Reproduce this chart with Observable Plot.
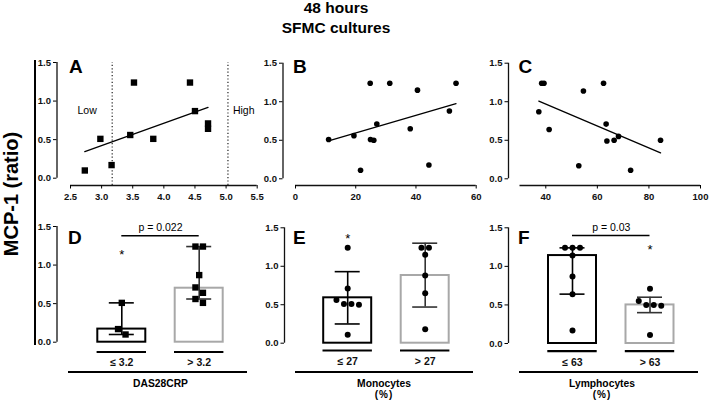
<!DOCTYPE html>
<html><head><meta charset="utf-8">
<script src="https://cdn.jsdelivr.net/npm/d3@7"></script>
<script src="https://cdn.jsdelivr.net/npm/@observablehq/plot@0.6"></script>
<style>
body{margin:0;background:#fff;}
#fig{position:relative;width:709px;height:402px;overflow:hidden;font-family:"Liberation Sans",Arial,Helvetica,sans-serif;color:#000;background:#fff}
.t{position:absolute;line-height:1;white-space:nowrap}
.hl{position:absolute;background:#000}
</style></head><body><div id="fig"></div>
<script>
// ---------- data ----------
// Panel A: DAS28CRP vs MCP-1 ratio
const dasX = [2.73, 2.98, 3.16, 3.46, 3.52, 3.83, 4.42, 4.50, 4.71, 4.71];
const dasY = [0.10, 0.51, 0.17, 0.56, 1.24, 0.51, 1.24, 0.87, 0.71, 0.64];
const dasCutoffs = [3.17, 5.03];
const dasTicks = [2.5, 3.0, 3.5, 4.0, 4.5, 5.0, 5.5];
// Panel B: Monocytes (%)
const monoX = [11.0, 19.4, 21.6, 24.8, 24.9, 26.0, 27.0, 31.3, 38.1, 40.5, 44.3, 51.1, 53.3];
const monoY = [0.51, 0.56, 0.11, 1.24, 0.51, 0.50, 0.71, 1.24, 0.65, 1.15, 0.18, 0.88, 1.24];
const monoTicks = [0, 20, 40, 60];
// Panel C: Lymphocytes (%)
const lymX = [37.3, 38.4, 39.3, 41.3, 52.8, 54.6, 62.4, 63.4, 63.7, 66.5, 68.2, 72.9, 84.5];
const lymY = [0.87, 1.24, 1.24, 0.64, 0.17, 1.14, 1.24, 0.71, 0.49, 0.50, 0.55, 0.11, 0.50];
const lymTicks = [40, 60, 80, 100];
const yTicks = [0, 0.5, 1.0, 1.5];

// Panels D-F: groups split at cutoffs
const dasSplit = 3.2, monoSplit = 27, lymSplit = 63;
const dLabels = ["\u2264 3.2", "> 3.2"];
const eLabels = ["\u2264 27", "> 27"];
const fLabels = ["\u2264 63", "> 63"];
const dBar = [0.17, 0.70], dLo = [0.10, 0.56], dHi = [0.51, 1.24];
const eBar = [0.59, 0.88], eLo = [0.25, 0.47], eHi = [0.93, 1.30];
const fBar = [1.14, 0.50], fLo = [0.64, 0.40], fHi = [1.24, 0.60];
const starGroup = [0, 0, 1];
const starValue = [1.18, 1.41, 1.26];
const pTexts = ["p = 0.022", "p = 0.03"];
const pLines = [1.38, 1.40];

// ---------- helpers ----------
const W = 709, H = 402;
const STYLE = 'position:absolute;left:0;top:0;background:transparent;overflow:visible;font-family:"Liberation Sans",Arial,Helvetica,sans-serif;font-size:9.5px;font-weight:bold;color:#000';
const f1 = d3.format(".1f");
const AX = {fontSize: 9.5, fontWeight: "bold", fill: "#111", label: null};

function rowOffsets(vals, spacing) {
  const idx = vals.map((v, i) => i).sort((a, b) => vals[a] - vals[b]);
  const off = new Array(vals.length).fill(0);
  let i = 0;
  while (i < idx.length) {
    const start = vals[idx[i]];
    let j = i;
    while (j < idx.length && vals[idx[j]] - start <= 0.08 + 1e-9) j++;
    const row = idx.slice(i, j).sort((a, b) => vals[b] - vals[a]);
    row.forEach((k, m) => off[k] = (m - (row.length - 1) / 2) * spacing);
    i = j;
  }
  return off;
}

function scatterPanel(o) {
  const yDom = [0, 1.5];
  const xInv = px => o.xDom[0] + (px - o.xRng[0]) * (o.xDom[1] - o.xDom[0]) / (o.xRng[1] - o.xRng[0]);
  const yInv = px => yDom[0] + (px - o.yRng[0]) * (yDom[1] - yDom[0]) / (o.yRng[1] - o.yRng[0]);
  const data = o.xs.map((x, i) => ({x, y: o.ys[i]}));
  const marks = [
    Plot.ruleX([xInv(o.yAxisPx)], {y1: 0, y2: 1.5, stroke: "#111", strokeWidth: 1.3}),
    Plot.ruleY([yInv(o.xAxisPx)], {x1: o.xDom[0], x2: o.xDom[1], stroke: "#111", strokeWidth: 1.3}),
    Plot.axisY({...AX, ticks: yTicks, tickFormat: f1, tickSize: 3.5, tickPadding: 2.5}),
    Plot.axisX({...AX, ticks: o.xTicks, tickFormat: o.xFmt, tickSize: 3.5, tickPadding: 4})
  ];
  if (o.cutoffs) {
    marks.push(Plot.ruleX(o.cutoffs, {y1: yInv(o.xAxisPx), y2: 1.5, stroke: "#222", strokeWidth: 1.2, strokeDasharray: "1.2,2.2"}));
    marks.push(Plot.text(["Low"], {x: o.xDom[0], y: yInv(110), dx: 7, text: d => d, textAnchor: "start", fontSize: 10.5, fontWeight: "normal", fill: "#000"}));
    marks.push(Plot.text(["High"], {x: o.cutoffs[1], y: yInv(110), dx: 5, text: d => d, textAnchor: "start", fontSize: 10.5, fontWeight: "normal", fill: "#000"}));
  }
  marks.push(Plot.linearRegressionY(data, {x: "x", y: "y", ci: 0, stroke: "#000", strokeWidth: 1.3}));
  marks.push(Plot.dot(data, {x: "x", y: "y", symbol: o.symbol, r: o.symbol === "square" ? 3.6 : 2.8, fill: "#000", stroke: "none"}));
  return Plot.plot({
    width: W, height: H,
    marginLeft: o.yAxisPx, marginBottom: H - o.xAxisPx, marginTop: o.yRng[1], marginRight: W - o.xRng[1],
    x: {domain: o.xDom, range: o.xRng},
    y: {domain: yDom, range: o.yRng},
    style: STYLE,
    marks
  });
}

function barPanel(o) {
  const yDom = [0, 1.5];
  const ppu = o.centers[1] - o.centers[0];
  const xInv = px => (px - o.centers[0]) / ppu;
  const yInv = px => (px - o.yRng[0]) * 1.5 / (o.yRng[1] - o.yRng[0]);
  const groups = o.labels.map((label, i) => ({i, label, bar: o.bar[i], lo: o.lo[i], hi: o.hi[i]}));
  const pts = [];
  o.groupVals.forEach((vals, g) => {
    const off = rowOffsets(vals, 7.5);
    vals.forEach((v, k) => pts.push({x: g + off[k] / ppu, v}));
  });
  const hw = 24 / ppu, uw = 24.7 / ppu, cw = 12.5 / ppu;
  const edge = ["#000000", "#a8a8a8"];
  const errc = ["#000000", "#333333"];
  const marks = [
    Plot.ruleX([xInv(o.yAxisPx)], {y1: 0, y2: 1.5, stroke: "#111", strokeWidth: 1.3}),
    Plot.axisY({...AX, ticks: yTicks, tickFormat: f1, tickSize: 3.5, tickPadding: 2.5}),
    Plot.rectY(groups, {x1: d => d.i - hw, x2: d => d.i + hw, y1: 0, y2: "bar", fill: "white", stroke: d => edge[d.i], strokeWidth: 2}),
    Plot.ruleX(groups, {x: "i", y1: "lo", y2: "hi", stroke: d => errc[d.i], strokeWidth: 1.6}),
    Plot.ruleY(groups, {y: "lo", x1: d => d.i - cw, x2: d => d.i + cw, stroke: d => errc[d.i], strokeWidth: 1.6}),
    Plot.ruleY(groups, {y: "hi", x1: d => d.i - cw, x2: d => d.i + cw, stroke: d => errc[d.i], strokeWidth: 1.6}),
    Plot.dot(pts, {x: "x", y: "v", symbol: o.symbol, r: o.symbol === "square" ? 3.6 : 3, fill: "#000", stroke: "none"}),
    Plot.ruleY(groups, {y: yInv(o.underPx), x1: d => d.i - uw, x2: d => d.i + uw, stroke: "#000", strokeWidth: 2.2}),
    Plot.axisX({...AX, ticks: [0, 1], tickFormat: i => o.labels[i], tickSize: 0, tickPadding: 7, fontSize: 10.5}),
    Plot.text([o.star], {x: "g", y: "v", text: () => "*", fontSize: 13, fontWeight: "normal", fill: "#000", dy: 4})
  ];
  if (o.p) {
    marks.push(Plot.ruleY([o.p], {y: "line", x1: 0, x2: 1, stroke: "#000", strokeWidth: 1.5}));
    marks.push(Plot.text([o.p], {x: 0.5, y: d => d.line + 0.1, text: "text", fontSize: 10.5, fontWeight: "normal", fill: "#000"}));
  }
  return Plot.plot({
    width: W, height: H,
    marginLeft: o.yAxisPx, marginBottom: H - o.underPx, marginTop: o.yRng[1], marginRight: 20,
    x: {domain: [0, 1], range: o.centers},
    y: {domain: yDom, range: o.yRng},
    color: {type: "identity"},
    style: STYLE,
    marks
  });
}

function split(xs, ys, cut) {
  return [ys.filter((v, i) => xs[i] <= cut), ys.filter((v, i) => xs[i] > cut)];
}

// ---------- build ----------
const fig = document.getElementById("fig");

fig.append(scatterPanel({xs: dasX, ys: dasY, xDom: [2.5, 5.5], xRng: [70, 256.7], yRng: [177.7, 62], yAxisPx: 56.5, xAxisPx: 185, xTicks: dasTicks, xFmt: f1, symbol: "square", cutoffs: dasCutoffs}));
fig.append(scatterPanel({xs: monoX, ys: monoY, xDom: [0, 60], xRng: [295, 475.7], yRng: [178.3, 62.7], yAxisPx: 282.5, xAxisPx: 185, xTicks: monoTicks, xFmt: d3.format("d"), symbol: "circle"}));
fig.append(scatterPanel({xs: lymX, ys: lymY, xDom: [30, 100], xRng: [519.5, 700], yRng: [178.3, 62.7], yAxisPx: 508, xAxisPx: 185, xTicks: lymTicks, xFmt: d3.format("d"), symbol: "circle"}));

fig.append(barPanel({labels: dLabels, bar: dBar, lo: dLo, hi: dHi, groupVals: split(dasX, dasY, dasSplit), centers: [121.3, 198.7], yRng: [341.7, 226], yAxisPx: 56.5, underPx: 351.5, symbol: "square", star: {g: starGroup[0], v: starValue[0]}, p: {text: pTexts[0], line: pLines[0]}}));
fig.append(barPanel({labels: eLabels, bar: eBar, lo: eLo, hi: eHi, groupVals: split(monoX, monoY, monoSplit), centers: [347.2, 424.7], yRng: [342.7, 227.3], yAxisPx: 284, underPx: 350, symbol: "circle", star: {g: starGroup[1], v: starValue[1]}}));
fig.append(barPanel({labels: fLabels, bar: fBar, lo: fLo, hi: fHi, groupVals: split(lymX, lymY, lymSplit), centers: [572, 649.5], yRng: [343, 227.3], yAxisPx: 508, underPx: 350.7, symbol: "circle", star: {g: starGroup[2], v: starValue[2]}, p: {text: pTexts[1], line: pLines[1]}}));

// ---------- text & decorations ----------
function label(text, x, baseline, fs, weight, anchor, extra) {
  const d = document.createElement("div");
  d.className = "t";
  d.textContent = text;
  d.style.fontSize = fs + "px";
  d.style.fontWeight = weight;
  d.style.top = (baseline - 0.8465 * fs) + "px";
  d.style.left = x + "px";
  if (anchor === "middle") d.style.transform = "translateX(-50%)";
  if (extra) Object.assign(d.style, extra);
  fig.append(d);
  return d;
}
function hline(x1, x2, y, w) {
  const d = document.createElement("div");
  d.className = "hl";
  Object.assign(d.style, {left: x1 + "px", top: (y - w / 2) + "px", width: (x2 - x1) + "px", height: w + "px"});
  fig.append(d);
}
function vline(x, y1, y2, w) {
  const d = document.createElement("div");
  d.className = "hl";
  Object.assign(d.style, {left: (x - w / 2) + "px", top: y1 + "px", width: w + "px", height: (y2 - y1) + "px"});
  fig.append(d);
}

label("48 hours", 336, 13.5, 15.5, "bold", "middle");
label("SFMC cultures", 336, 33, 15.5, "bold", "middle");

const yl = document.createElement("div");
yl.className = "t";
yl.textContent = "MCP-1 (ratio)";
Object.assign(yl.style, {fontSize: "20px", fontWeight: "bold", left: "11px", top: "193.5px", lineHeight: "1.15", transform: "translate(-50%,-50%) rotate(-90deg)"});
fig.append(yl);

vline(35, 60, 345, 2.2);

const letters = [["A", 69, 72.7], ["B", 293, 72.7], ["C", 518.5, 72.7], ["D", 68, 244.5], ["E", 293, 244.5], ["F", 518, 244.5]];
letters.forEach(([t, x, b]) => label(t, x, b, 19, "bold", "start"));

hline(68.3, 246.7, 371.7, 2);
hline(295, 473.3, 371.5, 2);
hline(519.3, 698.3, 371.5, 2);
label("DAS28CRP", 160.5, 387.3, 10.3, "bold", "middle");
label("Monocytes", 384, 387.3, 10.3, "bold", "middle");
label("(%)", 384, 398, 10, "bold", "middle", {letterSpacing: "1px"});
label("Lymphocytes", 602, 387.3, 10.3, "bold", "middle");
label("(%)", 602, 398, 10, "bold", "middle", {letterSpacing: "1px"});
</script>
</body></html>
